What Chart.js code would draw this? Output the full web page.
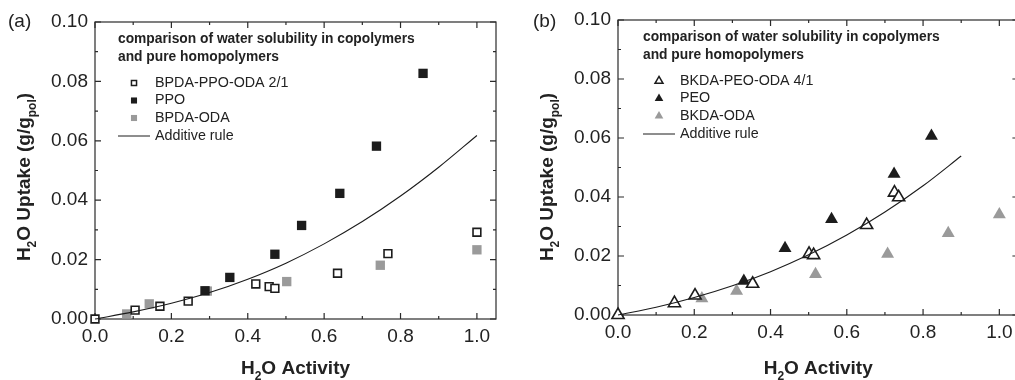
<!DOCTYPE html>
<html>
<head>
<meta charset="utf-8">
<title>water uptake</title>
<script src="https://cdn.jsdelivr.net/npm/chart.js"></script>
<style>
    body { margin: 0; background: #fff; overflow: hidden; width: 1015px; height: 380px; position: relative; }
    .box { position: absolute; top: 0; height: 380px; }
</style>
</head>
<body>
<div class="box" style="left:0; width:507px;"><canvas id="chartA"></canvas></div>
<div class="box" style="left:507px; width:520px;"><canvas id="chartB"></canvas></div>
<script>
// ---- (a) BPDA-PPO-ODA 2/1 ----
const aCopoX = [0, 0.105, 0.170, 0.244, 0.421, 0.456, 0.471, 0.635, 0.767, 1.0];
const aCopoY = [0, 0.0030, 0.0043, 0.0060, 0.0118, 0.0109, 0.0103, 0.0154, 0.0220, 0.0292];
const aPpoX = [0.288, 0.353, 0.471, 0.541, 0.641, 0.737, 0.859];
const aPpoY = [0.0095, 0.0140, 0.0218, 0.0315, 0.0423, 0.0582, 0.0827];
const aOdaX = [0.083, 0.142, 0.294, 0.502, 0.747, 1.0];
const aOdaY = [0.0017, 0.0051, 0.0094, 0.0126, 0.0181, 0.0233];
const aRuleX = [0, 0.1, 0.2, 0.3, 0.4, 0.5, 0.6, 0.7, 0.8, 0.9, 1.0];
const aRuleY = [0, 0.0024, 0.0053, 0.0089, 0.0134, 0.0188, 0.0253, 0.0328, 0.0414, 0.0511, 0.0618];

// ---- (b) BKDA-PEO-ODA 4/1 ----
const bCopoX = [0, 0.148, 0.202, 0.353, 0.501, 0.513, 0.652, 0.725, 0.736];
const bCopoY = [0, 0.0040, 0.0066, 0.0106, 0.0207, 0.0203, 0.0305, 0.0415, 0.0399];
const bPeoX = [0.330, 0.438, 0.560, 0.724, 0.822];
const bPeoY = [0.0115, 0.0226, 0.0325, 0.0478, 0.0607];
const bOdaX = [0.220, 0.311, 0.518, 0.707, 0.866, 1.0];
const bOdaY = [0.0056, 0.0081, 0.0138, 0.0207, 0.0277, 0.0341];
const bRuleX = [0, 0.1, 0.2, 0.3, 0.4, 0.5, 0.6, 0.7, 0.8, 0.9];
const bRuleY = [0, 0.0026, 0.0059, 0.0099, 0.0147, 0.0204, 0.0271, 0.0349, 0.0438, 0.0539];

const xTicks = [0, 0.2, 0.4, 0.6, 0.8, 1.0];
const yTicks = [0, 0.02, 0.04, 0.06, 0.08, 0.10];
const legendTitle = ['comparison of water solubility in copolymers', 'and pure homopolymers'];
const legendA = ['BPDA-PPO-ODA 2/1', 'PPO', 'BPDA-ODA', 'Additive rule'];
const legendB = ['BKDA-PEO-ODA 4/1', 'PEO', 'BKDA-ODA', 'Additive rule'];

const FONT = '"Liberation Sans", Arial, sans-serif';
const BLACK = '#1c1c1c';
const GREY = '#9a9a9a';

function pts(xs, ys) {
    return xs.map((x, i) => ({ x: x, y: ys[i] }));
}

// draw text with subscripts; parts = [[text, isSub], ...]
function richText(ctx, parts, cx, cy, size) {
    const big = 'bold ' + size + 'px ' + FONT;
    const small = 'bold ' + Math.round(size * 0.64) + 'px ' + FONT;
    let total = 0;
    parts.forEach(p => { ctx.font = p[1] ? small : big; total += ctx.measureText(p[0]).width; });
    let x = cx - total / 2;
    ctx.textAlign = 'left';
    ctx.textBaseline = 'alphabetic';
    parts.forEach(p => {
        ctx.font = p[1] ? small : big;
        ctx.fillText(p[0], x, cy + (p[1] ? size * 0.32 : 0));
        x += ctx.measureText(p[0]).width;
    });
}

const framePlugin = {
    id: 'frame',
    beforeDatasetsDraw(chart) {
        const ctx = chart.ctx, a = chart.chartArea;
        const xs = chart.scales.x, ys = chart.scales.y;
        ctx.save();
        ctx.strokeStyle = '#2a2a2a';
        ctx.lineWidth = 1.2;
        ctx.strokeRect(a.left, a.top, a.right - a.left, a.bottom - a.top);
        ctx.beginPath();
        for (let i = 0; i <= 10; i++) {
            const px = xs.getPixelForValue(i / 10);
            const len = i % 2 === 0 ? 6 : 3;
            ctx.moveTo(px, a.bottom); ctx.lineTo(px, a.bottom - len);
            ctx.moveTo(px, a.top); ctx.lineTo(px, a.top + len);
        }
        for (let i = 0; i <= 10; i++) {
            const py = ys.getPixelForValue(i / 100);
            const len = i % 2 === 0 ? 6 : 3;
            ctx.moveTo(a.left, py); ctx.lineTo(a.left + len, py);
            ctx.moveTo(a.right, py); ctx.lineTo(a.right - len, py);
        }
        ctx.stroke();
        ctx.restore();
    },
    afterDraw(chart, args, opts) {
        const ctx = chart.ctx, a = chart.chartArea;
        ctx.save();
        ctx.fillStyle = '#222';
        // panel letter
        ctx.font = '19px ' + FONT;
        ctx.textAlign = 'left';
        ctx.textBaseline = 'middle';
        ctx.fillText(opts.letter, opts.letterX, 22);
        // axis titles
        richText(ctx, [['H', 0], ['2', 1], ['O Activity', 0]], (a.left + a.right) / 2 - opts.titleShift, 374, 19);
        ctx.save();
        ctx.translate(opts.yTitleX, 177);
        ctx.rotate(-Math.PI / 2);
        richText(ctx, [['H', 0], ['2', 1], ['O Uptake (g/g', 0], ['pol', 1], [')', 0]], 0, 0, 19);
        ctx.restore();
        // legend
        const lx = a.left + opts.legX;
        ctx.font = 'bold 13.8px ' + FONT;
        ctx.textAlign = 'left';
        ctx.textBaseline = 'middle';
        ctx.fillText(legendTitle[0], lx, a.top + 17);
        ctx.fillText(legendTitle[1], lx, a.top + 35);
        ctx.font = '14.3px ' + FONT;
        const rows = [a.top + 61, a.top + 78.5, a.top + 96, a.top + 114];
        opts.labels.forEach((t, i) => ctx.fillText(t, lx + 37, rows[i]));
        const sym = lx + 16;
        const marks = opts.marks;
        for (let i = 0; i < 3; i++) {
            ctx.fillStyle = marks[i].fill;
            ctx.strokeStyle = BLACK;
            ctx.lineWidth = marks[i].bw;
            Chart.helpers.drawPoint(ctx, { pointStyle: marks[i].style, radius: marks[i].r, rotation: 0, borderWidth: marks[i].bw }, sym, rows[i]);
        }
        ctx.strokeStyle = BLACK;
        ctx.lineWidth = 1;
        ctx.beginPath();
        ctx.moveTo(lx, rows[3]);
        ctx.lineTo(lx + 32, rows[3]);
        ctx.stroke();
        ctx.restore();
    }
};

function makeChart(id, sets, rule, o) {
    const style = o.style;
    const r = o.r;
    return new Chart(document.getElementById(id), {
        type: 'scatter',
        data: {
            datasets: [
                { data: pts(rule[0], rule[1]), showLine: true, pointRadius: 0, borderColor: BLACK, borderWidth: 1.1, cubicInterpolationMode: 'monotone', clip: false },
                { data: pts(sets[0][0], sets[0][1]), pointStyle: style, pointRadius: o.rOpen, backgroundColor: '#fff', borderColor: BLACK, borderWidth: 1.6, clip: false },
                { data: pts(sets[1][0], sets[1][1]), pointStyle: style, pointRadius: r, backgroundColor: BLACK, borderWidth: 0, clip: false },
                { data: pts(sets[2][0], sets[2][1]), pointStyle: style, pointRadius: r, backgroundColor: GREY, borderWidth: 0, clip: false }
            ]
        },
        options: {
            animation: false,
            responsive: true,
            maintainAspectRatio: false,
            events: [],
            layout: { padding: { top: o.top, right: o.right, left: 0, bottom: 0 } },
            plugins: {
                legend: { display: false },
                tooltip: { enabled: false },
                frame: o.frame
            },
            scales: {
                x: {
                    type: 'linear', min: 0, max: 1.05,
                    afterFit: s => { s.height = o.xh; },
                    afterBuildTicks: s => { s.ticks = xTicks.map(v => ({ value: v })); },
                    grid: { display: false, drawTicks: false },
                    border: { display: false },
                    ticks: { padding: 6, color: '#222', font: { family: FONT, size: 19 }, callback: v => v.toFixed(1) }
                },
                y: {
                    type: 'linear', min: 0, max: 0.10,
                    afterFit: s => { s.width = o.yw; },
                    afterBuildTicks: s => { s.ticks = yTicks.map(v => ({ value: v })); },
                    grid: { display: false, drawTicks: false },
                    border: { display: false },
                    ticks: { padding: 7, color: '#222', font: { family: FONT, size: 19 }, callback: v => v.toFixed(2) }
                }
            }
        },
        plugins: [framePlugin]
    });
}

makeChart('chartA', [[aCopoX, aCopoY], [aPpoX, aPpoY], [aOdaX, aOdaY]], [aRuleX, aRuleY], {
    style: 'rect', r: 6.6, rOpen: 5.5, top: 22, right: 11, xh: 61, yw: 95,
    frame: {
        letter: '(a)', letterX: 8, yTitleX: 30, titleShift: 0, legX: 23, labels: legendA,
        marks: [
            { style: 'rect', r: 3.6, fill: '#fff', bw: 1.5 },
            { style: 'rect', r: 4.3, fill: BLACK, bw: 0 },
            { style: 'rect', r: 4.3, fill: GREY, bw: 0 }
        ]
    }
});

makeChart('chartB', [[bCopoX, bCopoY], [bPeoX, bPeoY], [bOdaX, bOdaY]], [bRuleX, bRuleY], {
    style: 'triangle', r: 7.5, rOpen: 7, top: 20, right: 8, xh: 65, yw: 111,
    frame: {
        letter: '(b)', letterX: 26, yTitleX: 46, titleShift: 0, legX: 25, labels: legendB,
        marks: [
            { style: 'triangle', r: 4.6, fill: '#fff', bw: 1.5 },
            { style: 'triangle', r: 5, fill: BLACK, bw: 0 },
            { style: 'triangle', r: 5, fill: GREY, bw: 0 }
        ]
    }
});
</script>
</body>
</html>
